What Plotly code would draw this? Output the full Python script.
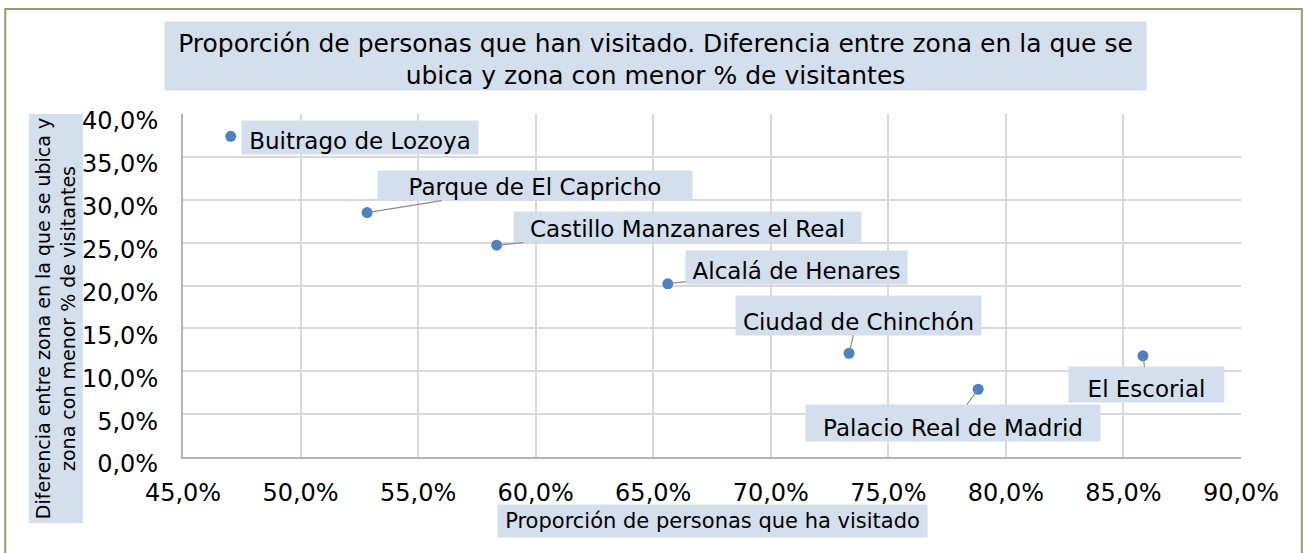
import plotly.graph_objects as go

# ---- data ----
places = ["Buitrago de Lozoya", "Parque de El Capricho", "Castillo Manzanares el Real",
          "Alcalá de Henares", "Ciudad de Chinchón", "Palacio Real de Madrid", "El Escorial"]
visited = [0.4703, 0.5283, 0.5834, 0.6562, 0.7333, 0.7882, 0.8583]
difference = [0.374, 0.285, 0.247, 0.202, 0.121, 0.079, 0.118]

# label placement (pixel offsets of the label box centre from its point), box sizes
label_dx = [129, 168, 191, 129, 9, -25, 4]
label_dy = [1, -27, -18, -16, -38, 34, 29]
label_w = [236, 314, 347, 221, 245, 294, 155]
label_h = [33, 29, 30, 33, 39, 36, 35]
label_valign = ["bottom", "bottom", "bottom", "bottom", "bottom", "bottom", "bottom"]
leader = [False, True, True, True, True, True, True]

title_text = ("Proporción de personas que han visitado. Diferencia entre zona en la que se<br>"
              "ubica y zona con menor % de visitantes")
x_title = "Proporción de personas que ha visitado"
y_title = "Diferencia entre zona en la que se ubica y<br>zona con menor % de visitantes"

FONT = "DejaVu Sans"
BOX = "#d3dfec"

fig = go.Figure()
fig.add_trace(go.Scatter(
    x=visited, y=difference, mode="markers",
    marker=dict(size=11, color="#4f81bd"),
    hoverinfo="skip", showlegend=False, cliponaxis=False,
))

annotations = []
for i, name in enumerate(places):
    annotations.append(dict(
        x=visited[i], y=difference[i], xref="x", yref="y",
        text=name, showarrow=True, arrowhead=0, arrowwidth=1.2,
        arrowcolor="#8c8c8c" if leader[i] else "rgba(0,0,0,0)",
        ax=label_dx[i], ay=label_dy[i], standoff=3,
        bgcolor=BOX, width=label_w[i], height=label_h[i], valign=label_valign[i],
        borderpad=0, font=dict(family=FONT, size=23, color="#000000"),
    ))

# title box
annotations.append(dict(
    x=0.447, y=1.17, xref="paper", yref="paper", text=title_text, showarrow=False,
    bgcolor=BOX, width=981, height=68, borderpad=0, xanchor="center", yanchor="middle",
    valign="bottom",
    font=dict(family=FONT, size=25, color="#000000"),
))
# x axis title
annotations.append(dict(
    x=0.5, y=-0.187, xref="paper", yref="paper", text=x_title, showarrow=False,
    bgcolor=BOX, width=429, height=32, borderpad=0, xanchor="center", yanchor="middle",
    font=dict(family=FONT, size=21, color="#000000"),
))
# y axis title
annotations.append(dict(
    x=-0.1206, y=0.405, xref="paper", yref="paper", text=y_title, showarrow=False,
    textangle=-90, bgcolor=BOX, width=408, height=53, borderpad=0,
    xanchor="center", yanchor="middle",
    font=dict(family=FONT, size=19, color="#000000"),
))

fig.update_layout(
    width=1305, height=553,
    margin=dict(l=183, r=64, t=114, b=96),
    paper_bgcolor="white", plot_bgcolor="white",
    separators=", ",
    font=dict(family=FONT, size=24, color="#000000"),
    annotations=annotations,
    shapes=[dict(type="rect", xref="paper", yref="paper",
                 x0=-0.168, x1=1.0575, y0=-0.35, y1=1.306,
                 line=dict(color="#9a9a72", width=2), layer="below")],
)
fig.update_xaxes(
    range=[0.45, 0.90], dtick=0.05, tickformat=".1%",
    showgrid=True, gridcolor="#d9d9d9", gridwidth=2,
    showline=True, linecolor="#b3b3b3", linewidth=2,
    zeroline=False, ticks="", ticklabelstandoff=13,
    tickfont=dict(family=FONT, size=24),
)
fig.update_yaxes(
    range=[0, 0.40], dtick=0.05, tickformat=".1%",
    showgrid=True, gridcolor="#d9d9d9", gridwidth=2,
    showline=True, linecolor="#b3b3b3", linewidth=2,
    zeroline=False, ticks="", ticklabelstandoff=18, ticklabelshift=7,
    tickfont=dict(family=FONT, size=24),
)

fig.write_html("out.html", config={"displayModeBar": False},
               post_script="document.body.style.margin='0';document.body.style.overflow='hidden';")
